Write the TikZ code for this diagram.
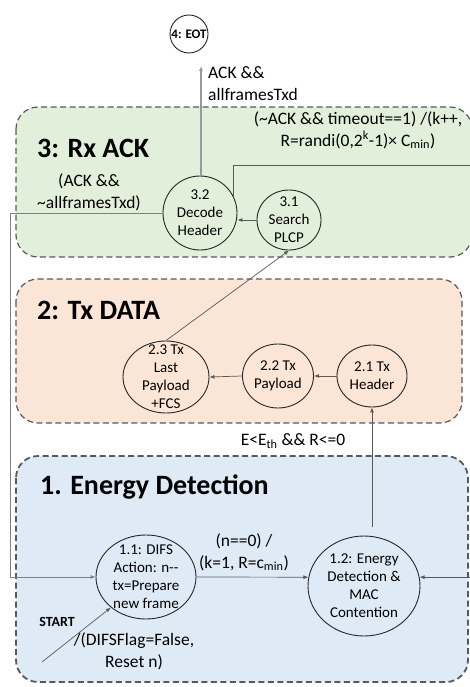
\documentclass[tikz,border=0pt]{standalone}
\usepackage{fontspec}
\setmainfont{Carlito}
\usetikzlibrary{positioning, arrows.meta, shapes.geometric}

\definecolor{rxgreen}{HTML}{E2EFDA}
\definecolor{txorange}{HTML}{FBE5D6}
\definecolor{edblue}{HTML}{DEEBF7}

\tikzset{
  panel/.style={draw=black!65, dash pattern=on 6pt off 3.5pt, line width=1.2pt, rounded corners=22pt},
  stt/.style={draw=black!85, ellipse, line width=0.9pt, inner sep=0pt},
  stxt/.style={align=center, font=\fontsize{15}{18}\selectfont, inner sep=0pt},
  lbl/.style={font=\fontsize{17.5}{22}\selectfont, inner sep=0pt},
  ttl/.style={anchor=west, font=\fontsize{28}{30}\selectfont\bfseries, inner sep=0pt},
  conn/.style={draw=black!65, line width=0.7pt, -{Latex[length=5pt,width=4pt]}},
}

\begin{document}
\begin{tikzpicture}[x=1pt, y=-1pt]
    \useasboundingbox (0,0) rectangle (470,687);
    \clip (0,0) rectangle (470,687);

    % Panels
    \draw[panel, fill=rxgreen] (16,107) rectangle (472,257);
    \draw[panel, fill=txorange] (16,279) rectangle (462,423);
    \draw[panel, fill=edblue, line width=1.8pt] (16,456) rectangle (468,682);

    % Panel titles
    \node[ttl] (t3) at (37,148) {3: Rx ACK};
    \node[ttl] (t2) at (37,310) {2: Tx DATA};
    \node[ttl] (t1) at (40,487) {1. Energy Detection};

    % End state
    \node[stt, minimum width=38, minimum height=38] (eot) at (189,34) {};
    \node[font=\fontsize{13}{14}\selectfont\bfseries, inner sep=0pt] (eot-t) at (eot) {4: EOT};

    % Rx ACK states
    \node[stt, minimum width=74, minimum height=74] (dec) at (200,213) {};
    \node[stxt] (dec-t) at (dec) {3.2\\Decode\\Header};
    \node[stt, minimum width=64, minimum height=60] (srch) at (289,220) {};
    \node[stxt] (srch-t) at (srch) {3.1\\Search\\PLCP};

    % Tx DATA states
    \node[stt, minimum width=86, minimum height=72] (last) at (166,377) {};
    \node[stxt] (last-t) at (last) {2.3 Tx\\Last\\Payload\\+FCS};
    \node[stt, minimum width=71, minimum height=64] (pay) at (278,376) {};
    \node[stxt] (pay-t) at (pay) {2.2 Tx\\Payload};
    \node[stt, minimum width=70, minimum height=62] (hdr) at (372,376) {};
    \node[stxt] (hdr-t) at (hdr) {2.1 Tx\\Header};

    % Energy detection states
    \node[stt, minimum width=100, minimum height=84] (dif) at (146,577) {};
    \node[stxt] (dif-t) at (dif) {1.1: DIFS\\Action: n-{}-\\tx=Prepare\\new frame};
    \node[stt, minimum width=112, minimum height=100] (ed) at (364,586) {};
    \node[stxt] (ed-t) at (ed) {1.2: Energy\\Detection \&\\MAC\\Contention};

    % Free ends
    \coordinate (eotin) at (201,66);
    \coordinate (edtop) at (372,527);
    \coordinate (rt) at (476,165);
    \coordinate (lft) at (10,213);
    \coordinate (st) at (42,662);

    % Transitions
    \draw[conn, draw=black!40, line width=1.1pt] (dec.north -| eotin) -- (eotin);
    \draw[conn] (dec.27) |- (rt) |- (ed.9);
    \draw[conn] (dif.east) -- (ed.171);
    \draw[conn] (srch.west) -- (srch.west -| dec.east);
    \draw[conn] (last.north) -- (srch.south);
    \draw[conn] (hdr.west) -- (pay.east);
    \draw[conn] (pay.west) -- (last.east);
    \draw[conn] (edtop) -- (hdr.south);
    \draw[conn, draw=black!50] (dec.west) -- (lft) |- (dif.west);
    \draw[conn] (st) -- (dif.221);

    % Transition labels
    \node[lbl, align=left, anchor=west] (l-ack) at (208,84) {ACK \&\&\\allframesTxd};
    \node[lbl, align=center] (l-tmo) at (358,130) {(\textasciitilde ACK \&\& timeout==1) /(k++,\\R=randi(0,2\textsuperscript{k}-1)× C\textsubscript{min})};
    \node[lbl, align=center] (l-nack) at (89,192) {(ACK \&\&\\\textasciitilde allframesTxd)};
    \node[lbl] (l-eth) at (293,441) {E<E\textsubscript{th} \&\& R<=0};
    \node[lbl, align=center] (l-n0) at (244,552) {(n==0) /\\(k=1, R=c\textsubscript{min})};
    \node[font=\fontsize{14}{16}\selectfont\bfseries, inner sep=0pt] (l-st) at (57,622) {START};
    \node[lbl, align=center] (l-difs) at (134,651) {/(DIFSFlag=False,\\Reset n)};
\end{tikzpicture}
\end{document}
